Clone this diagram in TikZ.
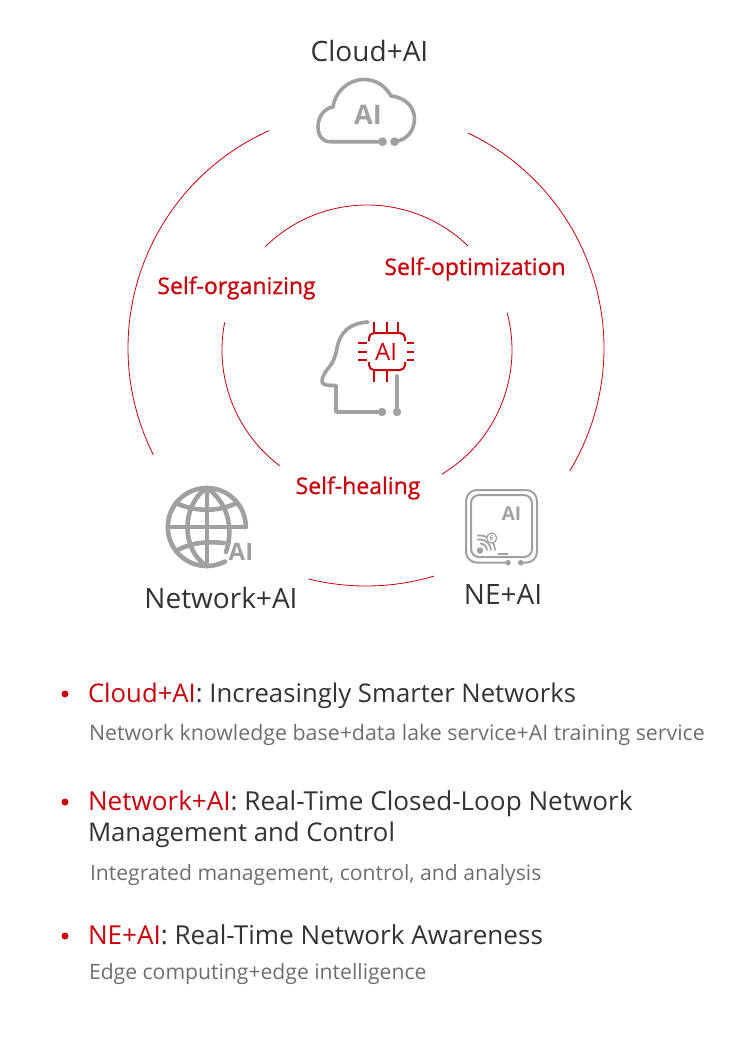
\documentclass[tikz,border=0pt]{standalone}
\usepackage{fontspec}
\setmainfont{Open Sans}
\newfontfamily\medfont[FakeBold=0.8]{Open Sans}
\definecolor{hred}{HTML}{C7000B}
\definecolor{hgray}{HTML}{A0A0A0}
\definecolor{hdark}{HTML}{333333}
\definecolor{hmid}{HTML}{6E6E6E}
\tikzset{
  every node/.style={inner sep=0pt,outer sep=0pt},
  ring/.style={draw=hred,line width=0.8pt},
  icon/.style={draw=hgray,line width=3.6pt,line cap=round,line join=round},
  globeline/.style={draw=hgray,line width=4.6pt,line cap=round,line join=round},
  thinicon/.style={draw=hgray,line width=2pt,line cap=round,line join=round},
  chip/.style={draw=hred,line width=2pt},
  dotmark/.style={fill=hgray,draw=none},
  biglabel/.style={text=hdark,font=\fontsize{28}{28}\selectfont,anchor=base},
  selflabel/.style={text=hred,font=\fontsize{23}{23}\medfont,anchor=base},
  headline/.style={text=hdark,font=\fontsize{#1}{#1}\selectfont,anchor=base west},
  headline/.default=25.7,
  subline/.style={text=hmid,font=\fontsize{#1}{#1}\selectfont,anchor=base west},
  subline/.default=21.35
}
\begin{document}
\begin{tikzpicture}[x=1pt,y=-1pt]
\useasboundingbox (0,0) rectangle (750,1037);
% outer rings
\foreach \a/\b in {64.6/-31.2,114/206.7,256/286.6}
  \draw[ring] plot[domain=\a:\b,samples=90,smooth] ({366+238*cos(\x)},{348-238*sin(\x)});
% inner rings
\foreach \a/\b in {45.8/134.4,14.8/-59,169/233}
  \draw[ring] plot[domain=\a:\b,samples=60,smooth] ({367+145*cos(\x)},{350-145*sin(\x)});
% cloud
\draw[icon] (382.5,141.7) -- (330,141.7)
  .. controls (322,141.7) and (318,135) .. (318,127)
  .. controls (318,116) and (325,108) .. (333,107)
  .. controls (335,92) and (348,79.5) .. (364,79.5)
  .. controls (377,79.5) and (386,87) .. (391,96)
  .. controls (404,97) and (414,106) .. (414.5,118)
  .. controls (414.5,131) and (407,140) .. (394.5,141.7);
\fill[dotmark] (382.5,141.7) circle (4.4) (394.5,141.7) circle (4.4);
\node[text=hgray,font=\fontsize{27}{27}\selectfont\bfseries,anchor=base] (cloudai) at (368,124) {AI};
% head
\draw[icon] (368,322) .. controls (350,323) and (340,332) .. (337,348)
  .. controls (335,358) and (333,362) .. (330,366)
  .. controls (326,371) and (322,376) .. (322,381)
  .. controls (322,384.5) and (325,385.5) .. (336,385.5)
  -- (336,412) -- (381,412);
\draw[icon] (397,376) -- (397,412);
\fill[dotmark] (382,412) circle (4.2) (397,412) circle (4.2);
% chip
\draw[chip,rounded corners=5] (369,341) -- (369,333) -- (405,333) -- (405,341);
\draw[chip,rounded corners=5] (369,362) -- (369,370) -- (405,370) -- (405,362);
\draw[chip] (374,322) -- (374,333) (387,322) -- (387,333) (398,322) -- (398,333)
  (374,370) -- (374,382) (387,370) -- (387,382);
\draw[chip] (358,343) -- (367,343) (358,352) -- (367,352) (358,360) -- (367,360)
  (407,343) -- (414,343) (407,352) -- (414,352) (407,360) -- (414,360);
\node[text=hred,font=\fontsize{24}{24}\selectfont,anchor=base] (headai) at (386,360) {AI};
% globe
\draw[globeline] (245.8,527) arc[start angle=0,end angle=298,radius=39pt];
\draw[globeline] (206.8,488) -- (206.8,566) (168,527) -- (245,527);
\draw[globeline] (206.8,488) .. controls (181,505) and (181,550) .. (206.8,566);
\draw[globeline] (206.8,488) .. controls (232,505) and (232,535) .. (226,552);
\draw[globeline] (176,503) .. controls (195,512) and (218,512) .. (237,503);
\draw[globeline] (176,551) .. controls (190,543) and (205,541) .. (224,543);
\node[text=hgray,font=\fontsize{24}{24}\selectfont\bfseries,anchor=base] (globeai) at (241,560) {AI};
% NE chip
\draw[thinicon,rounded corners=11] (508,562.7) -- (466,562.7) -- (466,490) -- (537,490) -- (537,562.7) -- (520.7,562.7);
\draw[thinicon,rounded corners=8] (471,495) rectangle (532,557);
\fill[dotmark] (508,562.7) circle (2.8) (520.7,562.7) circle (2.8);
\node[text=hgray,font=\fontsize{19}{19}\selectfont\bfseries,anchor=base] (neai) at (511.5,520) {AI};
\fill[dotmark] (480,550.5) circle (3.2);
\draw[hgray,line width=1.7pt] (480,543.5) arc[start angle=90,end angle=0,radius=7pt]
  (477,539.5) -- (480,539.5) arc[start angle=90,end angle=0,radius=11pt]
  (477,535.5) -- (480,535.5) arc[start angle=90,end angle=0,radius=15pt];
\draw[hgray,line width=1.2pt,fill=white] (491.7,538) circle (5);
\node[text=hgray,font=\fontsize{7}{7}\selectfont\bfseries] (sixmark) at (491.7,538) {6};
\draw[hgray,line width=1.5pt] (498,554) -- (508,554);
% labels
\node[biglabel] (cloudlabel) at (369.5,61) {Cloud+AI};
\node[biglabel] (netlabel) at (221,608) {Network+AI};
\node[biglabel] (nelabel) at (503,604) {NE+AI};
\node[selflabel] (selforg) at (236.5,294) {Self-organizing};
\node[selflabel] (selfopt) at (475,275) {Self-optimization};
\node[selflabel] (selfheal) at (358,494) {Self-healing};
% list
\fill[hred] (65,694) circle (3.5) (65,802) circle (3.5) (65,936) circle (3.5);
\node[headline] (h1) at (88,702) {\textcolor{hred}{Cloud+AI}: Increasingly Smarter Networks};
\node[subline] (s1) at (89,740) {Network knowledge base+data lake service+AI training service};
\node[headline=26.1] (h2a) at (88,810) {\textcolor{hred}{Network+AI}: Real-Time Closed-Loop Network};
\node[headline] (h2b) at (88,841) {Management and Control};
\node[subline=21.15] (s2) at (90,880) {Integrated management, control, and analysis};
\node[headline=26.1] (h3) at (88,944) {\textcolor{hred}{NE+AI}: Real-Time Network Awareness};
\node[subline=21.15] (s3) at (89,979) {Edge computing+edge intelligence};
\end{tikzpicture}
\end{document}
